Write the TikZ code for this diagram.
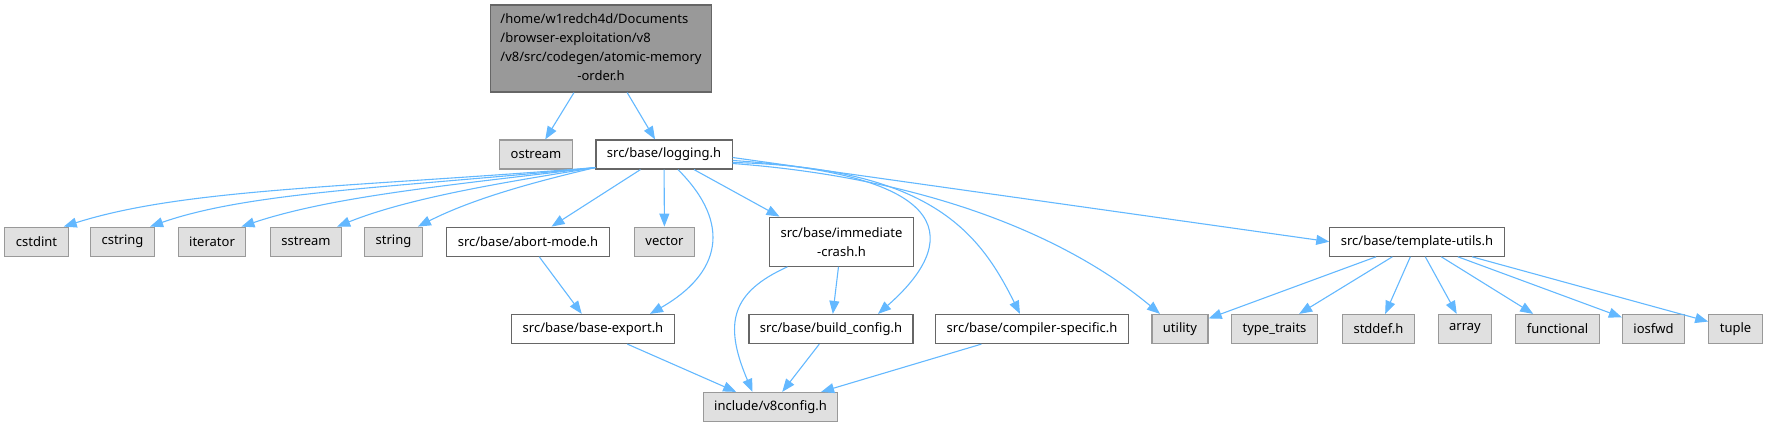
\documentclass[tikz,border=0pt]{standalone}
\usepackage{fontspec}
\setmainfont{Noto Sans}
\usepackage{tikz}
\usetikzlibrary{arrows.meta}
\definecolor{edgeblue}{HTML}{63B8FF}
\definecolor{extfill}{HTML}{E0E0E0}
\definecolor{extframe}{HTML}{999999}
\definecolor{hdrframe}{HTML}{666666}
\definecolor{rootfill}{HTML}{999999}

\begin{document}
\begin{tikzpicture}[
    x=1pt, y=1pt,
    file/.style={
        rectangle, draw, line width=1.2pt, text=black,
        font=\fontsize{13}{19}\selectfont,
        inner xsep=11pt, inner ysep=0pt, minimum height=29pt,
    },
    hdr/.style={file, fill=white, draw=hdrframe},
    sys/.style={file, fill=extfill, draw=extframe},
    root/.style={file, fill=rootfill, draw=hdrframe, inner xsep=10pt, minimum height=87pt},
    dep/.style={draw=edgeblue, line width=1.1pt, -{Triangle[length=13pt, width=10pt]}},
]
\useasboundingbox (0,0) rectangle (1767,-427);

% ── Rows ────────────────────────────────────────────────────────────────────
\def\rowA{-48.5}
\def\rowB{-154.5}
\def\rowC{-241.7}
\def\rowD{-329}
\def\rowE{-407}

% ── Included file ───────────────────────────────────────────────────────────
\node[root] (root) at (601, \rowA) {\begin{tabular}{@{}l@{}}
    /home/w1redch4d/Documents\\
    /browser-exploitation/v8\\
    /v8/src/codegen/atomic-memory\\
    \multicolumn{1}{@{}c@{}}{-order.h}
\end{tabular}};

\node[sys] (ostream) at (536, \rowB) {ostream};
\node[hdr] (logging) at (664, \rowB) {src/base/logging.h};

% ── Second row ──────────────────────────────────────────────────────────────
\node[sys] (cstdint)   at (36.5, \rowC)  {cstdint};
\node[sys] (cstring)   at (122.5, \rowC) {cstring};
\node[sys] (iterator)  at (212, \rowC)   {iterator};
\node[sys] (sstream)   at (306, \rowC)   {sstream};
\node[sys] (string)    at (393.5, \rowC) {string};
\node[hdr] (abortmode) at (528, \rowC)   {src/base/abort-mode.h};
\node[sys] (vector)    at (664.5, \rowC) {vector};
\node[hdr, align=center, minimum height=49pt] (immcrash) at (841.5, \rowC)
    {src/base/immediate\\-crash.h};
\node[hdr] (tmplutils) at (1417, \rowC)  {src/base/template-utils.h};

% ── Third row ───────────────────────────────────────────────────────────────
\node[hdr] (baseexport) at (593, \rowD)    {src/base/base-export.h};
\node[hdr] (buildcfg)   at (831, \rowD)    {src/base/build\_config.h};
\node[hdr] (compspec)   at (1032, \rowD)   {src/base/compiler-specific.h};
\node[sys] (utility)    at (1180, \rowD)   {utility};
\node[sys] (typetraits) at (1274.5, \rowD) {type\_traits};
\node[sys] (stddef)     at (1378.5, \rowD) {stddef.h};
\node[sys] (array)      at (1465, \rowD)   {array};
\node[sys] (functional) at (1557.5, \rowD) {functional};
\node[sys] (iosfwd)     at (1653.5, \rowD) {iosfwd};
\node[sys] (tuple)      at (1735.5, \rowD) {tuple};

\node[sys] (vconfig) at (770.5, \rowE) {include/v8config.h};

% ── Include edges ───────────────────────────────────────────────────────────
\draw[dep] (root) -- (ostream);
\draw[dep] (root) -- (logging);

\draw[dep] ([yshift=2]logging.south west) .. controls +(-250,-20) and +(120,38) .. ([xshift=-5]cstdint.north east);
\draw[dep] ([yshift=2]logging.south west) .. controls +(-200,-20) and +(100,35) .. ([xshift=-5]cstring.north east);
\draw[dep] ([yshift=2]logging.south west) .. controls +(-150,-18) and +(90,30) .. ([xshift=-5]iterator.north east);
\draw[dep] ([yshift=2]logging.south west) .. controls +(-100,-16) and +(70,28) .. ([xshift=-5]sstream.north east);
\draw[dep] ([yshift=2]logging.south west) .. controls +(-60,-14) and +(55,28) .. ([xshift=-5]string.north east);
\draw[dep] (logging) -- (abortmode);
\draw[dep] (logging) -- (vector);
\draw[dep] ([xshift=14]logging.south) .. controls +(55,-55) and +(70,40) .. ([xshift=57]baseexport.north);
\draw[dep] ([xshift=30]logging.south) -- ([xshift=-62]immcrash.north);
\draw[dep] ([yshift=-6]logging.east) .. controls +(230,-15) and +(80,70) .. ([xshift=47]buildcfg.north);
\draw[dep] ([yshift=-8]logging.east) .. controls +(200,-5) and +(-40,80) .. ([xshift=-12]compspec.north);
\draw[dep] ([yshift=-9]logging.east) .. controls +(200,-15) and +(-90,75) .. ([xshift=-20]utility.north);
\draw[dep] ([yshift=-3]logging.east) -- (tmplutils.west);

\draw[dep] (abortmode) -- (baseexport);
\draw[dep] (immcrash) -- (buildcfg);
\draw[dep] ([xshift=-54]immcrash.south) .. controls +(-55,-25) and +(-30,70) .. ([xshift=-18]vconfig.north);

\draw[dep] (baseexport) -- (vconfig);
\draw[dep] (buildcfg) -- (vconfig);
\draw[dep] (compspec) -- (vconfig);

\foreach \dst in {utility, typetraits, stddef, array, functional, iosfwd, tuple}
    \draw[dep] (tmplutils) -- (\dst);

\end{tikzpicture}
\end{document}
